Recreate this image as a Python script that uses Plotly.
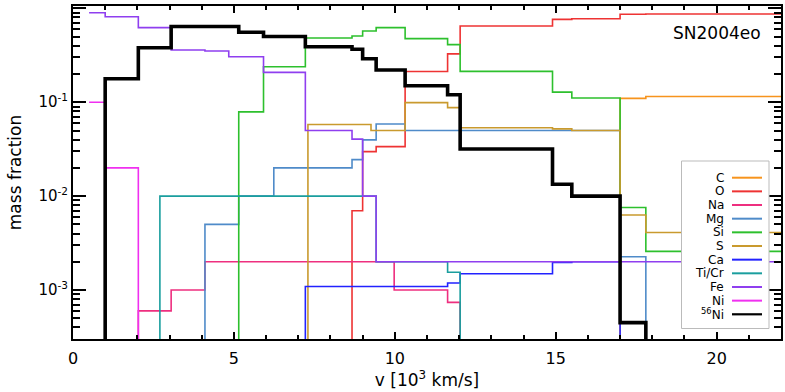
import plotly.graph_objects as go

# Shell edges (velocity, 10^3 km/s) and mass fraction in each shell (0 = absent)
v_C = [0.5, 17.0, 17.8, 22.0]
X_C = [0, 0.110, 0.115]
v_O = [0.5, 8.67, 9.0, 9.42, 10.32, 11.64, 12.03, 14.9, 15.5, 17.0, 17.8, 22.0]
X_O = [0, 0.0070, 0.0298, 0.0337, 0.212, 0.327, 0.648, 0.763, 0.775, 0.863, 0.870]
v_Na = [0.5, 2.03, 3.05, 4.1, 9.98, 11.64, 12.03, 22.0]
X_Na = [0, 6.0e-4, 1.0e-3, 2.0e-3, 1.0e-3, 7.4e-4, 0]
v_Mg = [0.5, 4.1, 5.15, 6.24, 8.67, 9.0, 9.42, 10.32, 17.0, 17.8, 22.0]
X_Mg = [0, 0.0050, 0.0100, 0.0200, 0.0245, 0.0397, 0.0587, 0.0500, 0.00226, 0]
v_Si = [0.5, 5.15, 5.92, 7.22, 8.67, 9.0, 9.42, 10.32, 11.64, 12.03, 14.9, 15.5, 17.0, 17.8, 22.0]
X_Si = [0, 0.079, 0.239, 0.483, 0.507, 0.574, 0.622, 0.475, 0.410, 0.213, 0.128, 0.111, 0.00756, 0.00258]
v_S = [0.5, 7.3, 9.26, 10.32, 11.64, 12.03, 14.9, 15.5, 17.0, 17.8, 22.0]
X_S = [0, 0.058, 0.050, 0.099, 0.0877, 0.0535, 0.052, 0.050, 0.0063, 0.0041]
v_Ca = [0.5, 7.22, 11.64, 12.03, 14.9, 15.5, 17.0, 22.0]
X_Ca = [0, 1.09e-3, 1.19e-3, 1.49e-3, 1.97e-3, 2.0e-3, 0]
v_Ti = [0.5, 2.7, 9.42, 11.64, 12.03, 22.0]
X_Ti = [0, 0.010, 0.002, 0.00155, 0]
v_Fe = [0.5, 1.0, 2.03, 3.05, 4.1, 4.84, 5.92, 7.22, 8.67, 9.0, 9.42, 22.0]
X_Fe = [0.898, 0.814, 0.622, 0.360, 0.351, 0.305, 0.208, 0.050, 0.0405, 0.010, 0.002]
v_Ni = [0.5, 1.0, 2.03, 22.0]
X_Ni = [0.10, 0.020, 0]
v_Ni56 = [0.5, 1.0, 2.03, 3.05, 5.15, 5.92, 7.22, 8.67, 9.0, 9.42, 10.32, 11.64, 12.03, 14.9, 15.5, 17.0, 17.8, 22.0]
X_Ni56 = [0, 0.178, 0.38, 0.64, 0.556, 0.50, 0.39, 0.366, 0.29, 0.22, 0.15, 0.12, 0.0318, 0.0134, 0.010, 4.5e-4, 0]

species = [
    ("C", v_C, X_C, "#F7941D", 1.6),
    ("O", v_O, X_O, "#EE3333", 1.6),
    ("Na", v_Na, X_Na, "#EE2F7F", 1.6),
    ("Mg", v_Mg, X_Mg, "#4F8BC9", 1.6),
    ("Si", v_Si, X_Si, "#2DC02D", 1.6),
    ("S", v_S, X_S, "#C99A2E", 1.6),
    ("Ca", v_Ca, X_Ca, "#2222FF", 1.6),
    ("Ti/Cr", v_Ti, X_Ti, "#1A9E9E", 1.6),
    ("Fe", v_Fe, X_Fe, "#8F3FEF", 1.6),
    ("Ni", v_Ni, X_Ni, "#F030F0", 1.6),
    ("<sup>56</sup>Ni", v_Ni56, X_Ni56, "#000000", 3.6),
]

x_ticks = [0, 5, 10, 15, 20]
y_ticks = [1e-3, 1e-2, 1e-1, 1.0]
y_ticktext = ["10<sup>-3</sup>", "10<sup>-2</sup>", "10<sup>-1</sup>", "10<sup>0</sup>"]

FLOOR = 1e-9  # absent species drawn below the axis

fig = go.Figure()
for name, v, X, col, w in species:
    y = [val if val > 0 else FLOOR for val in X]
    y = y + [y[-1]]
    fig.add_trace(go.Scatter(x=v, y=y, mode="lines", line=dict(color=col, width=w, shape="hv"),
                             name=name, showlegend=False, hoverinfo="skip"))

# plot-area geometry (pixels) for placing the hand-drawn legend
W, H = 785, 392
L, R, T, B = 73, 4, 6, 53
pw, ph = W - L - R, H - T - B

def px(xp):
    return (xp - L) / pw

def py(yp):
    return (H - B - yp) / ph

shapes = [dict(type="rect", xref="paper", yref="paper", x0=px(681.5), x1=px(769), y0=py(328.5), y1=py(161),
               line=dict(color="#BBBBBB", width=1), fillcolor="white", layer="above")]
annotations = []
for i, (name, v, X, col, w) in enumerate(species):
    yy = 177.7 + i * 13.66
    shapes.append(dict(type="line", xref="paper", yref="paper", x0=px(732), x1=px(762), y0=py(yy), y1=py(yy),
                       line=dict(color=col, width=2 if w < 3 else 2.2), layer="above"))
    annotations.append(dict(xref="paper", yref="paper", x=px(726), y=py(yy), text=name, showarrow=False,
                            xanchor="right", yanchor="middle", font=dict(size=12, color="black",
                                                                          family="DejaVu Sans")))

annotations.append(dict(xref="paper", yref="paper", x=px(763), y=py(33.5), text="SN2004eo", showarrow=False,
                        xanchor="right", yanchor="middle", font=dict(size=17, color="black", family="DejaVu Sans")))

minor_x = [v for v in range(1, 22) if v % 5 != 0]
minor_y = [k * 10.0 ** e for e in range(-4, 1) for k in range(2, 10) if 3e-4 <= k * 10.0 ** e <= 1.05]

fig.update_layout(
    template="none",
    width=W, height=H, autosize=False,
    margin=dict(l=L, r=R, t=T, b=B, autoexpand=False),
    paper_bgcolor="white", plot_bgcolor="white",
    font=dict(family="DejaVu Sans", color="black"),
    shapes=shapes, annotations=annotations,
    xaxis=dict(range=[0, 22], tickvals=x_ticks, ticks="inside", ticklen=7, tickwidth=1.5, tickcolor="black",
               showline=True, linewidth=2, linecolor="black", mirror="ticks", showgrid=False, zeroline=False,
               tickfont=dict(size=16), ticklabelstandoff=4, automargin=False,
               minor=dict(tickvals=minor_x, ticks="inside", ticklen=4, tickwidth=1.5, tickcolor="black",
                          showgrid=False),
               title=dict(text="v [10<sup>3</sup> km/s]", font=dict(size=17), standoff=2)),
    yaxis=dict(type="log", range=[-3.521, 0.0245], tickvals=y_ticks, ticktext=y_ticktext, ticks="inside",
               ticklen=13, tickwidth=1.5, tickcolor="black", showline=True, linewidth=2, linecolor="black",
               mirror="ticks", showgrid=False, zeroline=False, tickfont=dict(size=15), automargin=False,
               minor=dict(tickvals=minor_y, ticks="inside", ticklen=7, tickwidth=1.5, tickcolor="black",
                          showgrid=False),
               title=dict(text="mass fraction", font=dict(size=17), standoff=12)),
)

fig.write_html("out.html", config={"displayModeBar": False},
               post_script="document.body.style.margin='0';document.body.style.padding='0';")
